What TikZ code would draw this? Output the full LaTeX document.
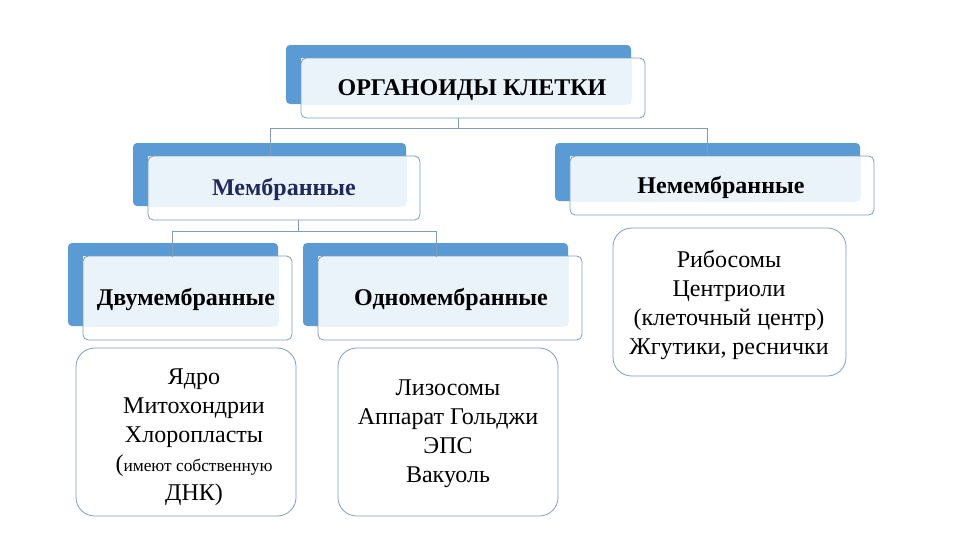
\documentclass[tikz,border=0pt]{standalone}
\usepackage{fontspec}
\setmainfont{Liberation Serif}
\definecolor{bblue}{HTML}{5B9BD5}
\definecolor{lblue}{HTML}{EAF2FA}
\definecolor{bord}{HTML}{7F9DB9}
\definecolor{navy}{HTML}{1F2A5A}
\begin{document}
\begin{tikzpicture}[x=0.75pt,y=-0.75pt,
  line/.style={draw=bord,line width=0.6pt},
  lst/.style={draw=bord,line width=0.6pt,rounded corners=14pt},
  ttl/.style={font=\bfseries\fontsize{18}{20}\selectfont,inner sep=0pt},
  itm/.style={align=center,font=\fontsize{18}{21.8}\selectfont,inner sep=0pt}]
\useasboundingbox (0,0) rectangle (960,540);
\def\tbox#1#2#3#4#5{%
  \fill[bblue,rounded corners=3pt] (#1,#2) rectangle (#3-14,#4-14);
  \fill[lblue] (#1+15,#2+13) rectangle (#3-14,#4-14);
  \draw[line,rounded corners=4pt] (#1+15,#2+13) rectangle (#3,#4);
  \coordinate (#5) at (#1+15,#2+13);}
\tbox{286}{45}{645}{118}{top}
\tbox{133}{143}{420}{220}{mem}
\tbox{555}{143}{874}{215}{nem}
\tbox{68}{243}{292}{340}{dvu}
\tbox{303}{243}{582}{340}{odn}
\node[ttl] (ttop) at (472,90) {ОРГАНОИДЫ КЛЕТКИ};
\node[ttl,text=navy] (tmem) at (284,189) {Мембранные};
\node[ttl] (tnem) at (721,187) {Немембранные};
\node[ttl] (tdvu) at (186,299) {Двумембранные};
\node[ttl] (todn) at (451,299) {Одномембранные};
\coordinate (a1) at (458,118); \coordinate (a2) at (458,128);
\coordinate (a3) at (270,128); \coordinate (a4) at (707,128);
\coordinate (a5) at (270,156); \coordinate (a6) at (707,156);
\draw[line] (a1)--(a2); \draw[line] (a3)--(a4);
\draw[line] (a3)--(a5); \draw[line] (a4)--(a6);
\coordinate (b1) at (298,220); \coordinate (b2) at (298,231);
\coordinate (b3) at (172,231); \coordinate (b4) at (436,231);
\coordinate (b5) at (172,257); \coordinate (b6) at (436,257);
\draw[line] (b1)--(b2); \draw[line] (b3)--(b4);
\draw[line] (b3)--(b5); \draw[line] (b4)--(b6);
\draw[lst] (76,348) rectangle (296,516);
\draw[lst] (338,348) rectangle (558,516);
\draw[lst] (613,228) rectangle (846,376);
\node[itm] (l1) at (194,437) {Ядро\\Митохондрии\\Хлоропласты\\({\fontsize{13}{21.8}\selectfont имеют собственную}\\ДНК)};
\node[itm] (l2) at (448,434) {Лизосомы\\Аппарат Гольджи\\ЭПС\\Вакуоль};
\node[itm] (l3) at (729,305) {Рибосомы\\Центриоли\\(клеточный центр)\\Жгутики, реснички};
\end{tikzpicture}
\end{document}
